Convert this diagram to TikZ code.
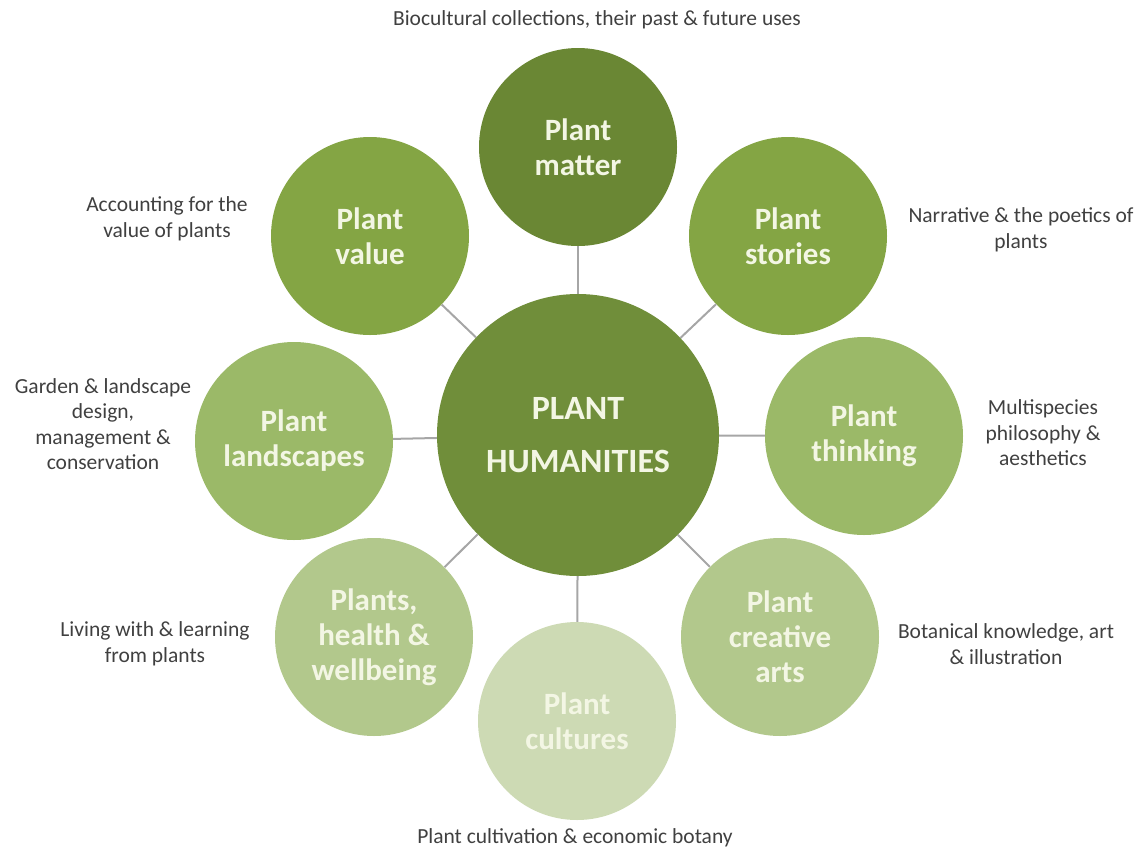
\documentclass[tikz,border=0pt]{standalone}
\usepackage{fontspec}
\setmainfont{Carlito}
\usetikzlibrary{positioning}

\definecolor{matterfill}{HTML}{6A8734}
\definecolor{hubfill}{HTML}{708E3A}
\definecolor{ringone}{HTML}{84A544}
\definecolor{ringtwo}{HTML}{9BB968}
\definecolor{ringthree}{HTML}{B2C88C}
\definecolor{ringfour}{HTML}{CDDAB4}
\definecolor{leaftext}{HTML}{F3F6E4}
\definecolor{notegray}{HTML}{404040}
\definecolor{linkgray}{HTML}{A6A6A6}

\begin{document}
\begin{tikzpicture}[x=1pt,y=-1pt,
   leaf/.style={circle,inner sep=0pt,minimum size=198pt,align=center,text=leaftext,
                font=\fontsize{31}{35}\selectfont\bfseries},
   hubnode/.style={leaf,minimum size=282pt,font=\fontsize{34}{53}\selectfont\bfseries},
   link/.style={draw=linkgray,line width=2pt},
   note/.style={align=center,text=notegray,font=\fontsize{21.5}{25.5}\selectfont}]

  \useasboundingbox (0,0) rectangle (1146,852);                        % Page frame

  \node[hubnode,fill=hubfill] (hub) at (578,435) {PLANT\\HUMANITIES};  % Centre circle

  \node[leaf,fill=matterfill] (matter) at (578,147) {Plant\\matter};   % Top circle
  \node[leaf,fill=ringone] (value) at (370,236) {Plant\\value};
  \node[leaf,fill=ringone] (stories) at (788,236) {Plant\\stories};
  \node[leaf,fill=ringtwo] (landscapes) at (294,441) {Plant\\landscapes};
  \node[leaf,fill=ringtwo] (thinking) at (864,436) {Plant\\thinking};
  \node[leaf,fill=ringthree] (health) at (374,637) {Plants,\\health \&\\wellbeing};
  \node[leaf,fill=ringthree] (arts) at (780,637) {Plant\\creative\\arts};
  \node[leaf,fill=ringfour] (cultures) at (577,721) {Plant\\cultures};  % Bottom circle

  \foreach \leafname in {matter,value,stories,landscapes,thinking,health,arts,cultures}
     \draw[link] (hub) -- (\leafname);                                 % Spokes to centre

  \node[note] (mattertext) at (597,20) {Biocultural collections, their past \& future uses};
  \node[note] (valuetext) at (167,219) {Accounting for the\\value of plants};
  \node[note] (storiestext) at (1021,230) {Narrative \& the poetics of\\plants};
  \node[note] (landscapestext) at (103,424) {Garden \& landscape\\design,\\management \&\\conservation};
  \node[note] (thinkingtext) at (1043,433) {Multispecies\\philosophy \&\\aesthetics};
  \node[note] (healthtext) at (155,644) {Living with \& learning\\from plants};
  \node[note] (artstext) at (1006,644) {Botanical knowledge, art\\\& illustration};
  \node[note] (culturestext) at (575,838) {Plant cultivation \& economic botany};

\end{tikzpicture}
\end{document}
